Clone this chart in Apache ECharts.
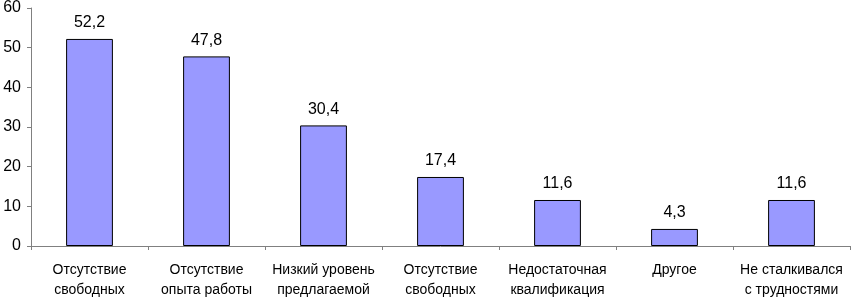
<!DOCTYPE html>
<html>
<head>
<meta charset="utf-8">
<script src="https://cdn.jsdelivr.net/npm/echarts@6/dist/echarts.min.js"></script>
<style>
	html, body { margin: 0; padding: 0; background: #fff; }
	#chart { width: 852px; height: 297px; }
</style>
</head>
<body>
<div id="chart"></div>
<script>
var categories = [
	'Отсутствие\nсвободных\nвакансий',
	'Отсутствие\nопыта работы',
	'Низкий уровень\nпредлагаемой\nзарплаты',
	'Отсутствие\nсвободных\nрабочих мест',
	'Недостаточная\nквалификация',
	'Другое',
	'Не сталкивался\nс трудностями'
];
var values = [52.2, 47.8, 30.4, 17.4, 11.6, 4.3, 11.6];
var yTicks = [0, 10, 20, 30, 40, 50, 60];

var font = 'Liberation Sans, Arial, sans-serif';
var myChart = echarts.init(document.getElementById('chart'));
var option = {
	animation: false,
	grid: {
		left: 31,
		right: 2,
		top: 8,
		bottom: 51,
		containLabel: false,
		outerBoundsMode: 'none'
	},
	xAxis: {
		type: 'category',
		data: categories,
		axisLine: { lineStyle: { color: '#808080', width: 1 } },
		axisTick: { show: true, length: 4, lineStyle: { color: '#808080' } },
		axisLabel: {
			interval: 0,
			margin: 14,
			color: '#000',
			fontFamily: font,
			fontSize: 14,
			lineHeight: 20
		}
	},
	yAxis: {
		type: 'value',
		min: yTicks[0],
		max: yTicks[yTicks.length - 1],
		interval: 10,
		splitLine: { show: false },
		axisLine: { show: true, lineStyle: { color: '#808080', width: 1 } },
		axisTick: { show: true, length: 4, lineStyle: { color: '#808080' } },
		axisLabel: {
			margin: 10,
			color: '#000',
			fontFamily: font,
			fontSize: 16
		}
	},
	series: [
		{
			type: 'bar',
			data: values,
			barCategoryGap: '60%',
			itemStyle: {
				color: '#9999FF',
				borderColor: '#000',
				borderWidth: 1
			},
			label: {
				show: true,
				position: 'top',
				distance: 8,
				color: '#000',
				fontFamily: font,
				fontSize: 16,
				formatter: function(p) {
					return String(p.value).replace('.', ',');
				}
			}
		}
	]
};
myChart.setOption(option);
</script>
</body>
</html>
